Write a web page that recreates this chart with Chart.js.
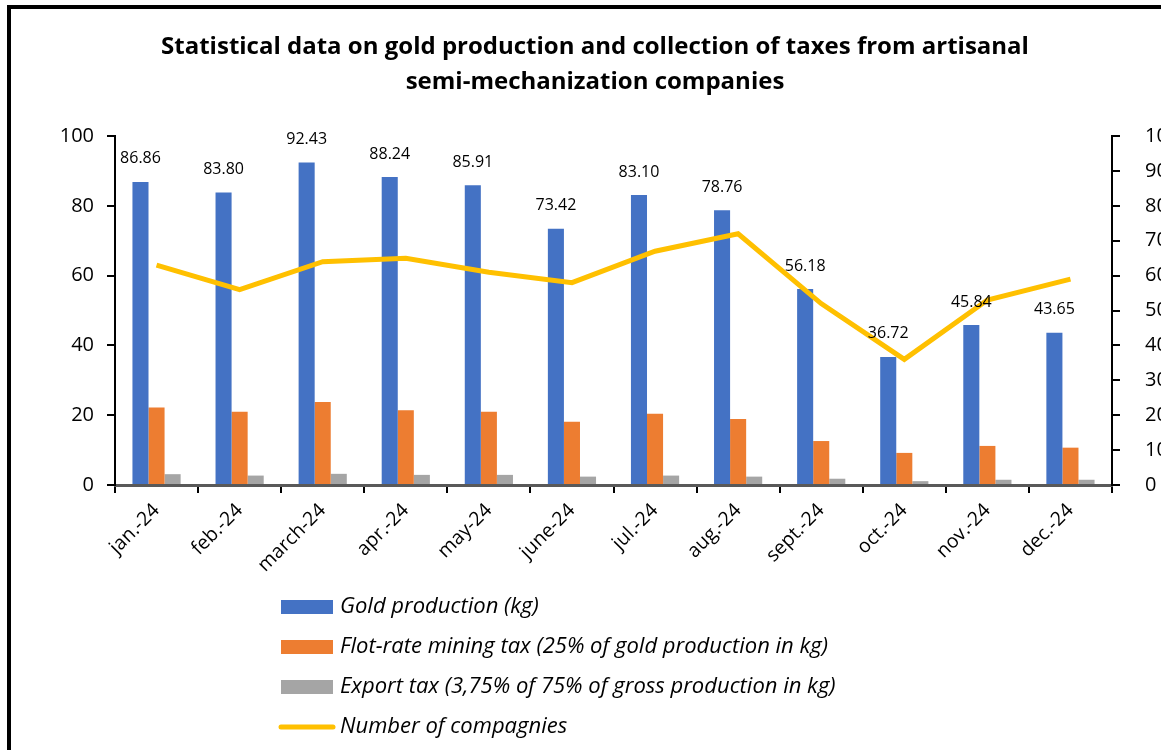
<!DOCTYPE html>
<html>
<head>
<meta charset="utf-8">
<title>Gold production and taxes</title>
<script src="https://cdn.jsdelivr.net/npm/chart.js@4.4.1/dist/chart.umd.min.js"></script>
<style>
  html, body { margin: 0; padding: 0; background: #fff; overflow: hidden; }
  .wrap { position: relative; width: 1161px; height: 750px; overflow: hidden; }
  .frame {
    position: absolute; left: 7px; top: 5px; width: 1300px; height: 900px;
    border-left: 4px solid #000; border-top: 4px solid #000; pointer-events: none;
  }
</style>
</head>
<body>
<div class="wrap">
  <canvas id="goldChart" width="1190" height="750"></canvas>
  <div class="frame"></div>
</div>
<script>
const months = ["jan.-24", "feb.-24", "march-24", "apr.-24", "may-24", "june-24",
                "jul.-24", "aug.-24", "sept.-24", "oct.-24", "nov.-24", "dec.-24"];
const goldProduction = [86.86, 83.80, 92.43, 88.24, 85.91, 73.42, 83.10, 78.76, 56.18, 36.72, 45.84, 43.65];
const flatRateTax = [22.2, 21.0, 23.8, 21.4, 21.0, 18.1, 20.4, 18.9, 12.6, 9.2, 11.2, 10.7];
const exportTax = [3.1, 2.7, 3.2, 2.9, 2.9, 2.4, 2.7, 2.4, 1.8, 1.1, 1.5, 1.5];
const companies = [63, 56, 64, 65, 61, 58, 67, 72, 52, 36, 53, 59];
const leftTicks = [0, 20, 40, 60, 80, 100];
const rightTicks = [0, 10, 20, 30, 40, 50, 60, 70, 80, 90, 100];

const FONT = "'Open Sans', 'DejaVu Sans', sans-serif";

// value labels above the gold bars, drawn after the line
const barLabels = {
  id: "barLabels",
  afterDatasetsDraw(chart) {
    const ctx = chart.ctx;
    const meta = chart.getDatasetMeta(0);
    ctx.save();
    ctx.font = "16px " + FONT;
    ctx.fillStyle = "#000";
    ctx.textAlign = "center";
    ctx.textBaseline = "middle";
    meta.data.forEach((bar, i) => {
      ctx.fillText(goldProduction[i].toFixed(2), bar.x, bar.y - 23);
    });
    ctx.restore();
  }
};

// vertical legend under the x axis
const stackedLegend = {
  id: "stackedLegend",
  afterDraw(chart) {
    const ctx = chart.ctx;
    const x0 = 281, y0 = 607, gap = 40;
    ctx.save();
    ctx.font = "italic 22px " + FONT;
    ctx.textBaseline = "middle";
    chart.data.datasets.forEach((ds, i) => {
      const y = y0 + i * gap;
      if (ds.type === "line") {
        ctx.strokeStyle = ds.borderColor;
        ctx.lineWidth = 5;
        ctx.lineCap = "round";
        ctx.beginPath();
        ctx.moveTo(x0, y);
        ctx.lineTo(x0 + 52, y);
        ctx.stroke();
      } else {
        ctx.fillStyle = ds.backgroundColor;
        ctx.fillRect(x0, y - 7, 52, 14);
      }
      ctx.fillStyle = "#000";
      ctx.fillText(ds.label, x0 + 59, y);
    });
    ctx.restore();
  }
};

const ctx = document.getElementById("goldChart").getContext("2d");
new Chart(ctx, {
  type: "bar",
  data: {
    labels: months,
    datasets: [
      {
        label: "Gold production (kg)",
        data: goldProduction,
        backgroundColor: "#4472C4",
        yAxisID: "y",
        order: 1
      },
      {
        label: "Flot-rate mining tax (25% of gold production in kg)",
        data: flatRateTax,
        backgroundColor: "#ED7D31",
        yAxisID: "y",
        order: 1
      },
      {
        label: "Export tax (3,75% of 75% of gross production in kg)",
        data: exportTax,
        backgroundColor: "#A5A5A5",
        yAxisID: "y",
        order: 1
      },
      {
        type: "line",
        label: "Number of compagnies",
        data: companies,
        borderColor: "#FFC000",
        backgroundColor: "#FFC000",
        borderWidth: 5,
        pointRadius: 0,
        tension: 0,
        yAxisID: "y1",
        order: 0
      }
    ]
  },
  options: {
    responsive: false,
    animation: false,
    layout: { padding: { left: 0, right: 0, top: 0, bottom: 165 } },
    datasets: {
      bar: { barPercentage: 1, categoryPercentage: 0.58 }
    },
    plugins: {
      legend: { display: false },
      tooltip: { enabled: false },
      title: {
        display: true,
        text: ["Statistical data on gold production and collection of taxes from artisanal",
               "semi-mechanization companies"],
        color: "#000",
        font: { family: FONT, size: 24, weight: "bold", lineHeight: 1.46 },
        padding: { top: 30, bottom: 36 }
      }
    },
    scales: {
      x: {
        grid: { display: true, drawOnChartArea: false, drawTicks: true, tickLength: 8, color: "#000", lineWidth: 2 },
        border: { display: true, color: "#595959", width: 3 },
        ticks: {
          color: "#000",
          font: { family: FONT, size: 19.5 },
          minRotation: 45,
          maxRotation: 45,
          autoSkip: false,
          padding: 6
        },
        afterFit(scale) { scale.height = 100; }
      },
      y: {
        position: "left",
        min: 0,
        max: 100,
        afterBuildTicks(scale) { scale.ticks = leftTicks.map(v => ({ value: v })); },
        grid: { display: true, drawOnChartArea: false, drawTicks: true, tickLength: 8, color: "#000", lineWidth: 2 },
        border: { display: true, color: "#000", width: 2 },
        ticks: { color: "#000", font: { family: FONT, size: 20 }, padding: 13 },
        afterFit(scale) { scale.width = 115; }
      },
      y1: {
        position: "right",
        min: 0,
        max: 100,
        afterBuildTicks(scale) { scale.ticks = rightTicks.map(v => ({ value: v })); },
        grid: { display: true, drawOnChartArea: false, drawTicks: true, tickLength: 8, color: "#000", lineWidth: 2 },
        border: { display: true, color: "#000", width: 2 },
        ticks: { color: "#000", font: { family: FONT, size: 20 }, padding: 25 },
        afterFit(scale) { scale.width = 78; }
      }
    }
  },
  plugins: [barLabels, stackedLegend]
});
</script>
</body>
</html>
